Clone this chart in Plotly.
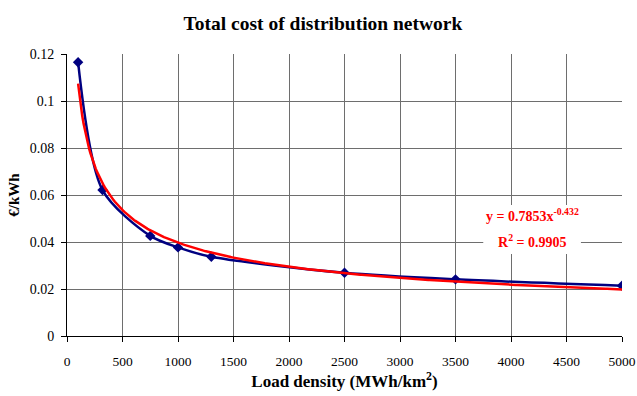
import numpy as np
import plotly.graph_objects as go

# Load density (MWh/km2) and total network cost (EUR/kWh)
load_density = [100, 320, 750, 1000, 1300, 2500, 3500, 5000]
cost_per_kwh = [0.1165, 0.0621, 0.0426, 0.0377, 0.0337, 0.0269, 0.0241, 0.0214]

# Power trendline coefficients: y = a * x^b
trend_a = 0.7853
trend_b = -0.432
r_squared = 0.9905

x_tick_vals = [0, 500, 1000, 1500, 2000, 2500, 3000, 3500, 4000, 4500, 5000]
y_tick_vals = [0, 0.02, 0.04, 0.06, 0.08, 0.1, 0.12]
y_tick_text = ["0", "0.02", "0.04", "0.06", "0.08", "0.1", "0.12"]

trend_x = np.linspace(min(load_density), max(load_density), 400)
trend_y = trend_a * trend_x ** trend_b

serif = "Liberation Serif, Times New Roman, serif"

fig = go.Figure()
fig.add_trace(go.Scatter(
    x=load_density, y=cost_per_kwh, mode="lines+markers",
    line=dict(color="#000080", width=2.5, shape="spline", smoothing=0.8),
    marker=dict(symbol="diamond", size=8, color="#000080"),
    showlegend=False,
))
fig.add_trace(go.Scatter(
    x=trend_x, y=trend_y, mode="lines",
    line=dict(color="#ff0000", width=2.5),
    showlegend=False,
))

# White label box behind the trendline equation
fig.add_shape(type="rect", xref="x", yref="y",
              x0=3750, x1=4630, y0=0.0349, y1=0.0557,
              fillcolor="white", line=dict(width=0), layer="above")
label_font = dict(family=serif, size=14, color="#ff0000", weight="bold")
fig.add_annotation(x=4190, y=0.0515, xref="x", yref="y",
                   text=f"y = {trend_a}x<sup>{trend_b}</sup>",
                   showarrow=False, font=label_font)
fig.add_annotation(x=4190, y=0.0404, xref="x", yref="y",
                   text=f"R<sup>2</sup> = {r_squared}",
                   showarrow=False, font=label_font)

fig.update_layout(
    width=637, height=396,
    margin=dict(l=67, r=15, t=54, b=60),
    paper_bgcolor="white", plot_bgcolor="white",
    title=dict(text="<b>Total cost of distribution network</b>",
               x=0.507, xanchor="center", y=0.942, yanchor="middle",
               font=dict(family=serif, size=19.5, color="black")),
    font=dict(family=serif, size=13.5, color="black"),
)
fig.update_xaxes(
    range=[0, 5000], tickvals=x_tick_vals, automargin=False,
    tickfont=dict(family=serif, size=13.5), ticklabelstandoff=8,
    showgrid=True, gridcolor="#6e6e6e", gridwidth=1,
    showline=True, linecolor="black", linewidth=1, mirror=False,
    ticks="outside", ticklen=5, tickcolor="black",
    zeroline=False,
    title=dict(text="<b>Load density (MWh/km<sup>2</sup>)</b>",
               font=dict(family=serif, size=17), standoff=4),
)
fig.update_yaxes(
    range=[0, 0.12], tickvals=y_tick_vals, ticktext=y_tick_text, automargin=False,
    tickfont=dict(family=serif, size=14), ticklabelstandoff=4,
    showgrid=True, gridcolor="#6e6e6e", gridwidth=1,
    showline=True, linecolor="black", linewidth=1,
    ticks="outside", ticklen=5, tickcolor="black",
    zeroline=False,
    title=dict(text="<b>€/kWh</b>", font=dict(family=serif, size=15), standoff=6),
)

fig.write_html("out.html")
